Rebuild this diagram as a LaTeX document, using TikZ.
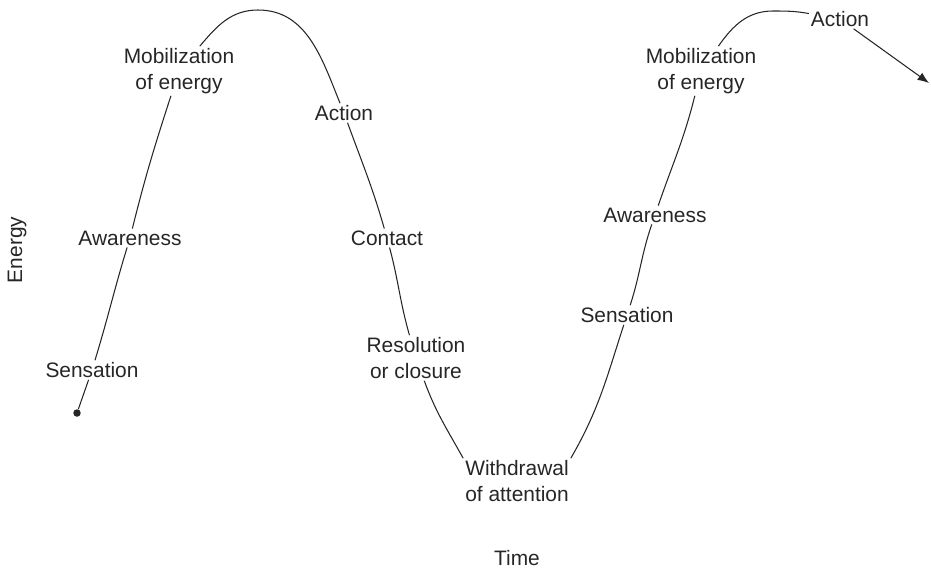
\documentclass[tikz,border=0pt]{standalone}
\usepackage{fontspec}
\setmainfont{Liberation Sans}
\usepackage{tikz}
\tikzset{every picture/.style={font issue=\fontsize{11.9}{14.8}},
         font issue/.style={execute at begin picture={#1\selectfont}}
        }
\usetikzlibrary{arrows.meta}
\tikzstyle{stage}=[align=center,inner sep=1pt,text=black!85]
\tikzstyle{axis}=[inner sep=1pt,text=black!85]
\tikzstyle{cycle}=[draw,black!85,line width=0.6pt]
\tikzstyle{startdot}=[circle,fill=black!85,inner sep=0pt,minimum size=1.5mm]

\begin{document}
\begin{tikzpicture}[x=0.02cm,y=-0.02cm]
	\useasboundingbox (0,0) rectangle (931,569);

	\node[axis,rotate=90] (energy) at (17,250) {Energy};
	\node[axis] (time) at (517,558) {Time};

	\node[startdot] (start) at (77,413) {};
	\node[stage] (sensA) at (92,370) {Sensation};
	\node[stage] (awareA) at (130,238) {Awareness};
	\node[stage] (mobA) at (179,71) {Mobilization\\of energy};
	\coordinate (peakA) at (258,10);
	\node[stage] (actA) at (344,113) {Action};
	\node[stage] (contact) at (387,238) {Contact};
	\node[stage] (resol) at (416,358) {Resolution\\or closure};
	\node[stage] (withdr) at (517,481) {Withdrawal\\of attention};

% % % second cycle
	\node[stage] (sensB) at (627,315) {Sensation};
	\node[stage] (awareB) at (655,215) {Awareness};
	\node[stage] (mobB) at (701,71) {Mobilization\\of energy};
	\coordinate (peakB) at (773,11);
	\node[stage] (actB) at (840,19) {Action};
	\coordinate (endB) at (929,83);

	\path[cycle] (start) -- (sensA)
		to[out=73,in=-107] (awareA)
		to[out=76,in=-108] (mobA)
		to[out=50,in=180] (peakA)
		to[out=0,in=112] (actA)
		to[out=-70,in=106] (contact)
		to[out=-75,in=106] (resol)
		to[out=-70,in=119] (withdr.north west);

	\path[cycle] (withdr.north east)
		to[out=60,in=-108] (sensB)
		to[out=72,in=-109] (awareB)
		to[out=71,in=-104] (mobB)
		to[out=55,in=180] (peakB)
		to[out=0,in=170] (actB);

	\path[cycle,-{Latex[length=6.5pt,width=5pt]}] (actB) -- (endB);
\end{tikzpicture}
\end{document}
